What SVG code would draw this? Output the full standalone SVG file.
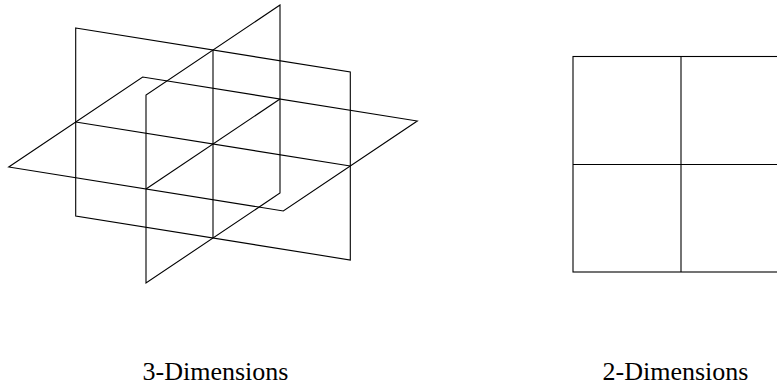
<svg xmlns="http://www.w3.org/2000/svg" width="777" height="385" viewBox="0 0 777 385">
<style>
.ln{fill:none;stroke:#000;stroke-width:1.1;stroke-linejoin:miter}
.lbl{font-family:"Liberation Serif","Times New Roman",serif;font-size:26px;fill:#000;text-anchor:middle}
</style>
<rect width="777" height="385" fill="#fff"/>
<g id="three-d">
<polygon class="ln" points="75.7,28 350.3,72 350.3,260 75.7,216"/>
<polygon class="ln" points="280,5 146,95 146,283 280,193"/>
<polygon class="ln" points="8.7,167 142.7,77 417.3,121 283.3,211"/>
<line class="ln" x1="213" y1="50" x2="213" y2="238"/>
<line class="ln" x1="75.7" y1="122" x2="350.3" y2="166"/>
<line class="ln" x1="280" y1="99" x2="146" y2="189"/>
</g>
<g id="two-d">
<rect class="ln" x="573" y="56.5" width="216" height="215.5"/>
<line class="ln" x1="681" y1="56.5" x2="681" y2="272"/>
<line class="ln" x1="573" y1="164.5" x2="789" y2="164.5"/>
</g>
<text class="lbl" x="215.5" y="380">3-Dimensions</text>
<text class="lbl" x="675.5" y="380">2-Dimensions</text>
</svg>
